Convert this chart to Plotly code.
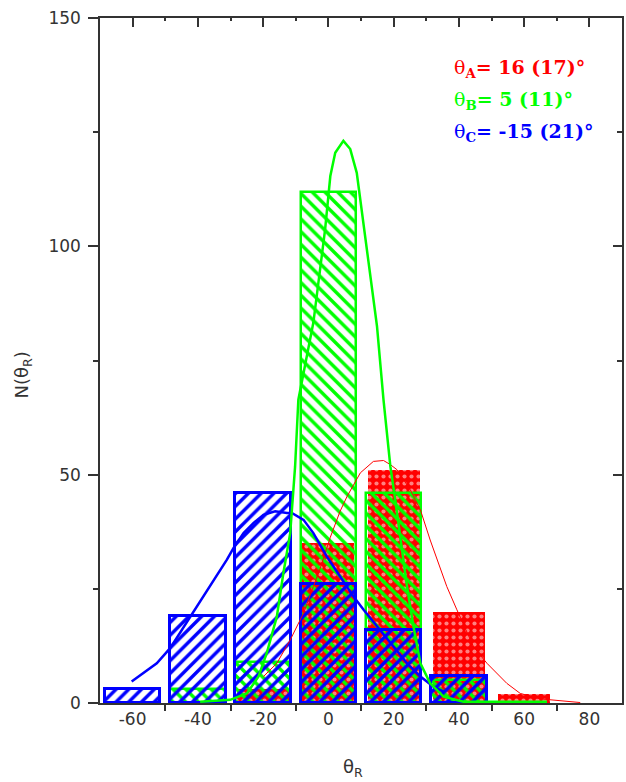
import plotly.graph_objects as go

# ---------------- data ----------------
bin_centers = [-60, -40, -20, 0, 20, 40, 60]
counts_A = [None, None, 3, 35, 51, 20, 2]      # red
counts_B = [None, 3, 9, 112, 46, 5, None]      # green
counts_C = [3, 19, 46, 26, 16, 6, None]        # blue

fit_A_x = [-19.9, -15.8, -11.7, -7.6, -4.6, -2.5, 0.6, 3.6, 5.7, 9.8, 13.8, 16.9, 19.0,
           21.0, 25.1, 28.2, 31.2, 36.3, 39.4, 44.5, 48.6, 54.7, 58.8, 65.0, 77.2]
fit_A_y = [5.8, 8.7, 13.8, 19.7, 25.5, 29.5, 36.3, 42.0, 45.2, 50.4, 52.9, 53.1, 52.2,
           51.1, 46.7, 42.3, 35.7, 25.5, 20.4, 12.3, 8.7, 4.3, 2.1, 0.9, 0.1]

fit_B_x = [-39.3, -30.1, -25.0, -21.4, -18.9, -15.8, -13.8, -11.7, -10.2, -9.2, -4.6, -2.5,
           -1.0, 0.6, 2.1, 4.6, 6.7, 8.7, 10.3, 12.8, 14.9, 16.9, 19.0, 20.5, 22.5, 24.1,
           26.1, 28.2, 31.2, 35.3, 41.4, 67.0]
fit_B_y = [0.3, 0.7, 2.1, 5.8, 10.9, 18.9, 28.4, 37.2, 51.8, 66.4, 83.3, 95.0,
           103.7, 115.4, 120.5, 123.1, 121.3, 116.1, 107.4, 95.0, 82.5, 66.4, 51.8, 44.5, 34.3, 25.5,
           16.7, 8.7, 4.3, 1.4, 0.3, 0.3]

fit_C_x = [-60.3, -56.7, -52.6, -48.5, -45.5, -42.4, -38.3, -34.2, -31.1, -29.1, -26.0, -23.0,
           -19.9, -16.3, -12.7, -11.2, -7.6, -4.6, -0.5, 3.6, 7.7, 10.8, 14.9, 20.0, 24.1,
           28.2, 32.2, 35.3]
fit_C_y = [4.7, 6.5, 8.7, 12.0, 15.3, 18.9, 23.3, 27.7, 31.4, 33.9, 37.2, 39.4,
           41.2, 42.0, 41.6, 41.6, 40.1, 37.2, 32.1, 27.7, 23.3, 20.4, 16.7, 12.3, 8.7,
           5.8, 3.6, 2.5]

x_tick_vals = [-60, -40, -20, 0, 20, 40, 60, 80]
x_tick_text = ["-60", "-40", "-20", "0", "20", "40", "60", "80"]
x_minor_vals = [-50, -30, -10, 10, 30, 50, 70]
y_tick_vals = [0, 50, 100, 150]
y_tick_text = ["0", "50", "100", "150"]
y_minor_vals = [25, 75, 125]

param_names = ["A", "B", "C"]
param_values = ["16 (17)°", "5 (11)°", "-15 (21)°"]

RED = "#ff0000"
GREEN = "#00ff00"
BLUE = "#0000ff"
AX = "#333333"
CLEAR = "rgba(255,255,255,0)"

fig = go.Figure()

# red bars (back)
fig.add_trace(go.Bar(
    x=bin_centers, y=counts_A, width=16,
    marker=dict(color=RED, line=dict(width=0, color=RED),
                pattern=dict(shape=".", fillmode="overlay", bgcolor=RED,
                             fgcolor="white", size=7, solidity=0.28)),
    showlegend=False))
# green bars
fig.add_trace(go.Bar(
    x=bin_centers, y=counts_B, width=17,
    marker=dict(color=CLEAR, line=dict(width=2.5, color=GREEN),
                pattern=dict(shape="\\", fillmode="overlay", bgcolor=CLEAR,
                             fgcolor=GREEN, fgopacity=1, size=9, solidity=0.38)),
    showlegend=False))
# blue bars (front)
fig.add_trace(go.Bar(
    x=bin_centers, y=counts_C, width=17,
    marker=dict(color=CLEAR, line=dict(width=3, color=BLUE),
                pattern=dict(shape="/", fillmode="overlay", bgcolor=CLEAR,
                             fgcolor=BLUE, fgopacity=1, size=9, solidity=0.38)),
    showlegend=False))

# fit curves
fig.add_trace(go.Scatter(x=fit_A_x, y=fit_A_y, mode="lines",
                         line=dict(color=RED, width=1), showlegend=False))
fig.add_trace(go.Scatter(x=fit_C_x, y=fit_C_y, mode="lines",
                         line=dict(color=BLUE, width=2.5), showlegend=False))
fig.add_trace(go.Scatter(x=fit_B_x, y=fit_B_y, mode="lines",
                         line=dict(color=GREEN, width=2.5), showlegend=False))

# dummy trace for mirrored axes
fig.add_trace(go.Scatter(x=[None], y=[None], xaxis="x2", yaxis="y2",
                         showlegend=False, hoverinfo="skip"))

XR = [-70, 90]
YR = [0, 150]

fig.update_layout(
    width=626, height=782,
    margin=dict(l=100, r=4, t=18, b=79),
    paper_bgcolor="white", plot_bgcolor="white",
    barmode="overlay", bargap=0,
    font=dict(family="DejaVu Sans", size=17, color=AX),
    xaxis=dict(range=XR, showgrid=False, zeroline=False,
               showline=True, linecolor=AX, linewidth=1.5,
               tickmode="array", tickvals=x_tick_vals, ticktext=x_tick_text,
               ticks="", tickfont=dict(size=17, color=AX),
               minor=dict(tickmode="array", tickvals=x_minor_vals, ticks="outside",
                          ticklen=6, tickwidth=1.5, tickcolor=AX, showgrid=False),
               fixedrange=True),
    yaxis=dict(range=YR, showgrid=False, zeroline=False,
               showline=True, linecolor=AX, linewidth=1.5,
               tickmode="array", tickvals=y_tick_vals, ticktext=y_tick_text,
               ticks="outside", ticklen=10, tickwidth=1.5, tickcolor=AX,
               ticklabelstandoff=4,
               tickfont=dict(size=17, color=AX),
               minor=dict(tickmode="array", tickvals=y_minor_vals, ticks="outside",
                          ticklen=5, tickwidth=1.5, tickcolor=AX, showgrid=False),
               fixedrange=True),
    xaxis2=dict(range=XR, overlaying="x", side="top", anchor="y2",
                showgrid=False, zeroline=False, showline=True, linecolor=AX, linewidth=1.5,
                tickmode="array", tickvals=x_tick_vals, showticklabels=False,
                ticks="inside", ticklen=9, tickwidth=1.5, tickcolor=AX,
                minor=dict(tickmode="array", tickvals=x_minor_vals, ticks="inside",
                           ticklen=3, tickwidth=1.5, tickcolor=AX, showgrid=False),
                fixedrange=True),
    yaxis2=dict(range=YR, overlaying="y", side="right", anchor="x2",
                showgrid=False, zeroline=False, showline=True, linecolor=AX, linewidth=1.5,
                tickmode="array", tickvals=y_tick_vals, showticklabels=False,
                ticks="inside", ticklen=9, tickwidth=1.5, tickcolor=AX,
                minor=dict(tickmode="array", tickvals=y_minor_vals, ticks="inside",
                           ticklen=5, tickwidth=1.5, tickcolor=AX, showgrid=False),
                fixedrange=True),
)

# axis titles
fig.add_annotation(text="N(θ<sub>R</sub>)", xref="paper", yref="paper",
                   x=-0.1475, y=0.478, xanchor="center", yanchor="middle",
                   textangle=-90, showarrow=False,
                   font=dict(family="DejaVu Sans", size=18, color=AX))
fig.add_annotation(text="θ<sub>R</sub>", xref="paper", yref="paper",
                   x=0.485, y=-0.095, xanchor="center", yanchor="middle",
                   showarrow=False, font=dict(family="DejaVu Sans", size=18, color=AX))

# parameter labels
label_colors = [RED, GREEN, BLUE]
label_y = [0.926, 0.879, 0.833]
for name, val, col, yy in zip(param_names, param_values, label_colors, label_y):
    fig.add_annotation(text="θ<sub><b>" + name + "</b></sub><b>= " + val + "</b>",
                       xref="paper", yref="paper", x=0.674, y=yy,
                       xanchor="left", yanchor="middle", showarrow=False,
                       font=dict(family="DejaVu Serif", size=19, color=col))

fig.write_html("out.html")
